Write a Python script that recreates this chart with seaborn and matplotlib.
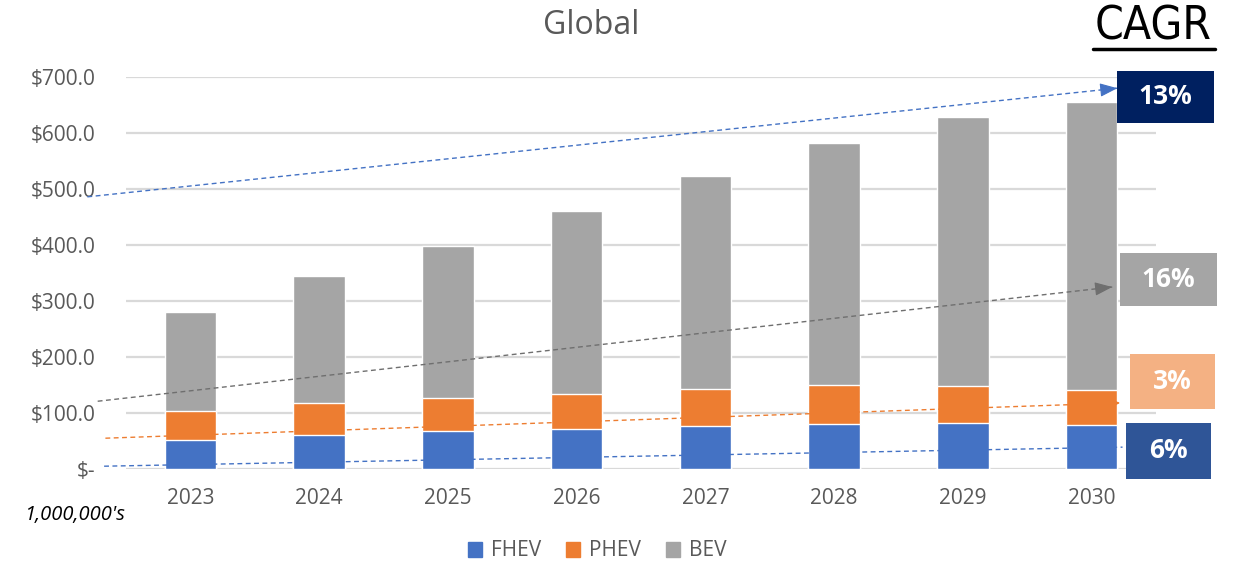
import matplotlib
matplotlib.use("Agg")
import matplotlib.pyplot as plt
from matplotlib.patches import Rectangle
from matplotlib.lines import Line2D
import seaborn as sns
import pandas as pd
import numpy as np

# ---- data ----
years = ["2023", "2024", "2025", "2026", "2027", "2028", "2029", "2030"]
fhev = [51, 60, 67, 71, 76, 80, 82, 79]
phev = [53, 57, 60, 63, 67, 70, 66, 62]
bev = [177, 228, 272, 326, 381, 432, 481, 515]
y_ticks = [0, 100, 200, 300, 400, 500, 600, 700]
y_tick_labels = ["$-", "$100.0", "$200.0", "$300.0", "$400.0", "$500.0", "$600.0", "$700.0"]

series = ["FHEV", "PHEV", "BEV"]
colors = {"FHEV": "#4472C4", "PHEV": "#ED7D31", "BEV": "#A5A5A5"}

# CAGR trend arrows: (x0, y0, x1, y1) in data units
trend_total = (-0.80, 486, 7.20, 680)
trend_bev = (-0.72, 121, 7.16, 325)
trend_phev = (-0.66, 55, 7.22, 118)
trend_fhev = (-0.67, 5, 7.24, 39)
cagr_labels = ["13%", "16%", "3%", "6%"]

sns.set_theme(style="white")
plt.rcParams["font.family"] = ["Open Sans", "DejaVu Sans"]

W, H = 1235, 563
fig = plt.figure(figsize=(W / 100, H / 100), dpi=100)
ax = fig.add_axes([126 / W, 1 - 469 / H, (1156 - 126) / W, (469 - 77) / H])

df = pd.DataFrame({"year": years, "FHEV": fhev, "PHEV": phev, "BEV": bev})
df["top_phev"] = df["FHEV"] + df["PHEV"]
df["top_bev"] = df["top_phev"] + df["BEV"]

sns.barplot(data=df, x="year", y="top_bev", color=colors["BEV"], width=0.4,
            saturation=1, ax=ax, zorder=2)
sns.barplot(data=df, x="year", y="top_phev", color=colors["PHEV"], width=0.4,
            saturation=1, ax=ax, zorder=3)
sns.barplot(data=df, x="year", y="FHEV", color=colors["FHEV"], width=0.4,
            saturation=1, ax=ax, zorder=4)

ax.set_xlim(-0.5, 7.5)
ax.set_ylim(0, 700)
ax.set_yticks(y_ticks)
ax.set_yticklabels(y_tick_labels)
ax.set_xlabel("")
ax.set_ylabel("")
ax.grid(axis="y", color="#D9D9D9", linewidth=1.6, zorder=0)
ax.set_axisbelow(True)
for s in ["top", "right", "left", "bottom"]:
    ax.spines[s].set_visible(False)
ax.tick_params(axis="both", length=0, labelsize=15, labelcolor="#595959")
ax.tick_params(axis="y", pad=22)
ax.tick_params(axis="x", pad=14)


def trend(t, color, lw, head=True, hw=0.35, hl=0.9):
    x0, y0, x1, y1 = t
    ax.plot([x0, x1], [y0, y1], linestyle=(0, (3.5, 2.5)), color=color, lw=lw,
            clip_on=False, zorder=6)
    if head:
        f = 0.985
        ax.annotate("", xy=(x1, y1), xytext=(x0 + (x1 - x0) * f, y0 + (y1 - y0) * f),
                    arrowprops=dict(arrowstyle=f"-|>,head_length={hl},head_width={hw}",
                                    color=color, lw=0.8, shrinkA=0, shrinkB=0),
                    annotation_clip=False, zorder=7)


trend(trend_total, "#4472C4", 1.0)
trend(trend_bev, "#6F6F6F", 1.0)
trend(trend_phev, "#ED7D31", 1.0, hw=0.2, hl=0.4)
trend(trend_fhev, "#4472C4", 1.0, head=False)

# CAGR boxes (figure pixel boxes)
boxes = [
    (1117, 71, 1214, 123, "#002060"),
    (1120, 253, 1217, 306, "#A5A5A5"),
    (1130, 354, 1215, 409, "#F4B183"),
    (1126, 423, 1211, 479, "#2F5597"),
]
for (x0, y0, x1, y1, c), lab in zip(boxes, cagr_labels):
    fig.patches.append(Rectangle((x0 / W, 1 - y1 / H), (x1 - x0) / W, (y1 - y0) / H,
                                 transform=fig.transFigure, facecolor=c,
                                 edgecolor="none", zorder=10))
    fig.text((x0 + x1) / 2 / W, 1 - (y0 + y1) / 2 / H, lab, color="white",
             fontsize=19, fontweight="bold", ha="center", va="center", zorder=11)

fig.text(591 / W, 1 - 25 / H, "Global", fontsize=23, color="#595959",
         ha="center", va="center")
fig.text(1153 / W, 1 - 27 / H, "CAGR", fontsize=33, color="black",
         ha="center", va="center", fontstretch="condensed", family="DejaVu Sans")
fig.add_artist(Line2D([1093 / W, 1215 / W], [1 - 49 / H, 1 - 49 / H],
                      color="black", lw=2.5, transform=fig.transFigure))
fig.text(75 / W, 1 - 515 / H, "1,000,000's", fontsize=14.5, style="italic",
         color="black", ha="center", va="center")

handles = [Rectangle((0, 0), 1, 1, color=colors[s]) for s in series]
fig.legend(handles, series, loc="center", bbox_to_anchor=(597 / W, 1 - 551 / H),
           ncol=3, frameon=False, fontsize=15, handlelength=0.7, handleheight=0.7,
           handletextpad=0.4, columnspacing=1.2, labelcolor="#595959")

fig.savefig("out.png", dpi=100)
